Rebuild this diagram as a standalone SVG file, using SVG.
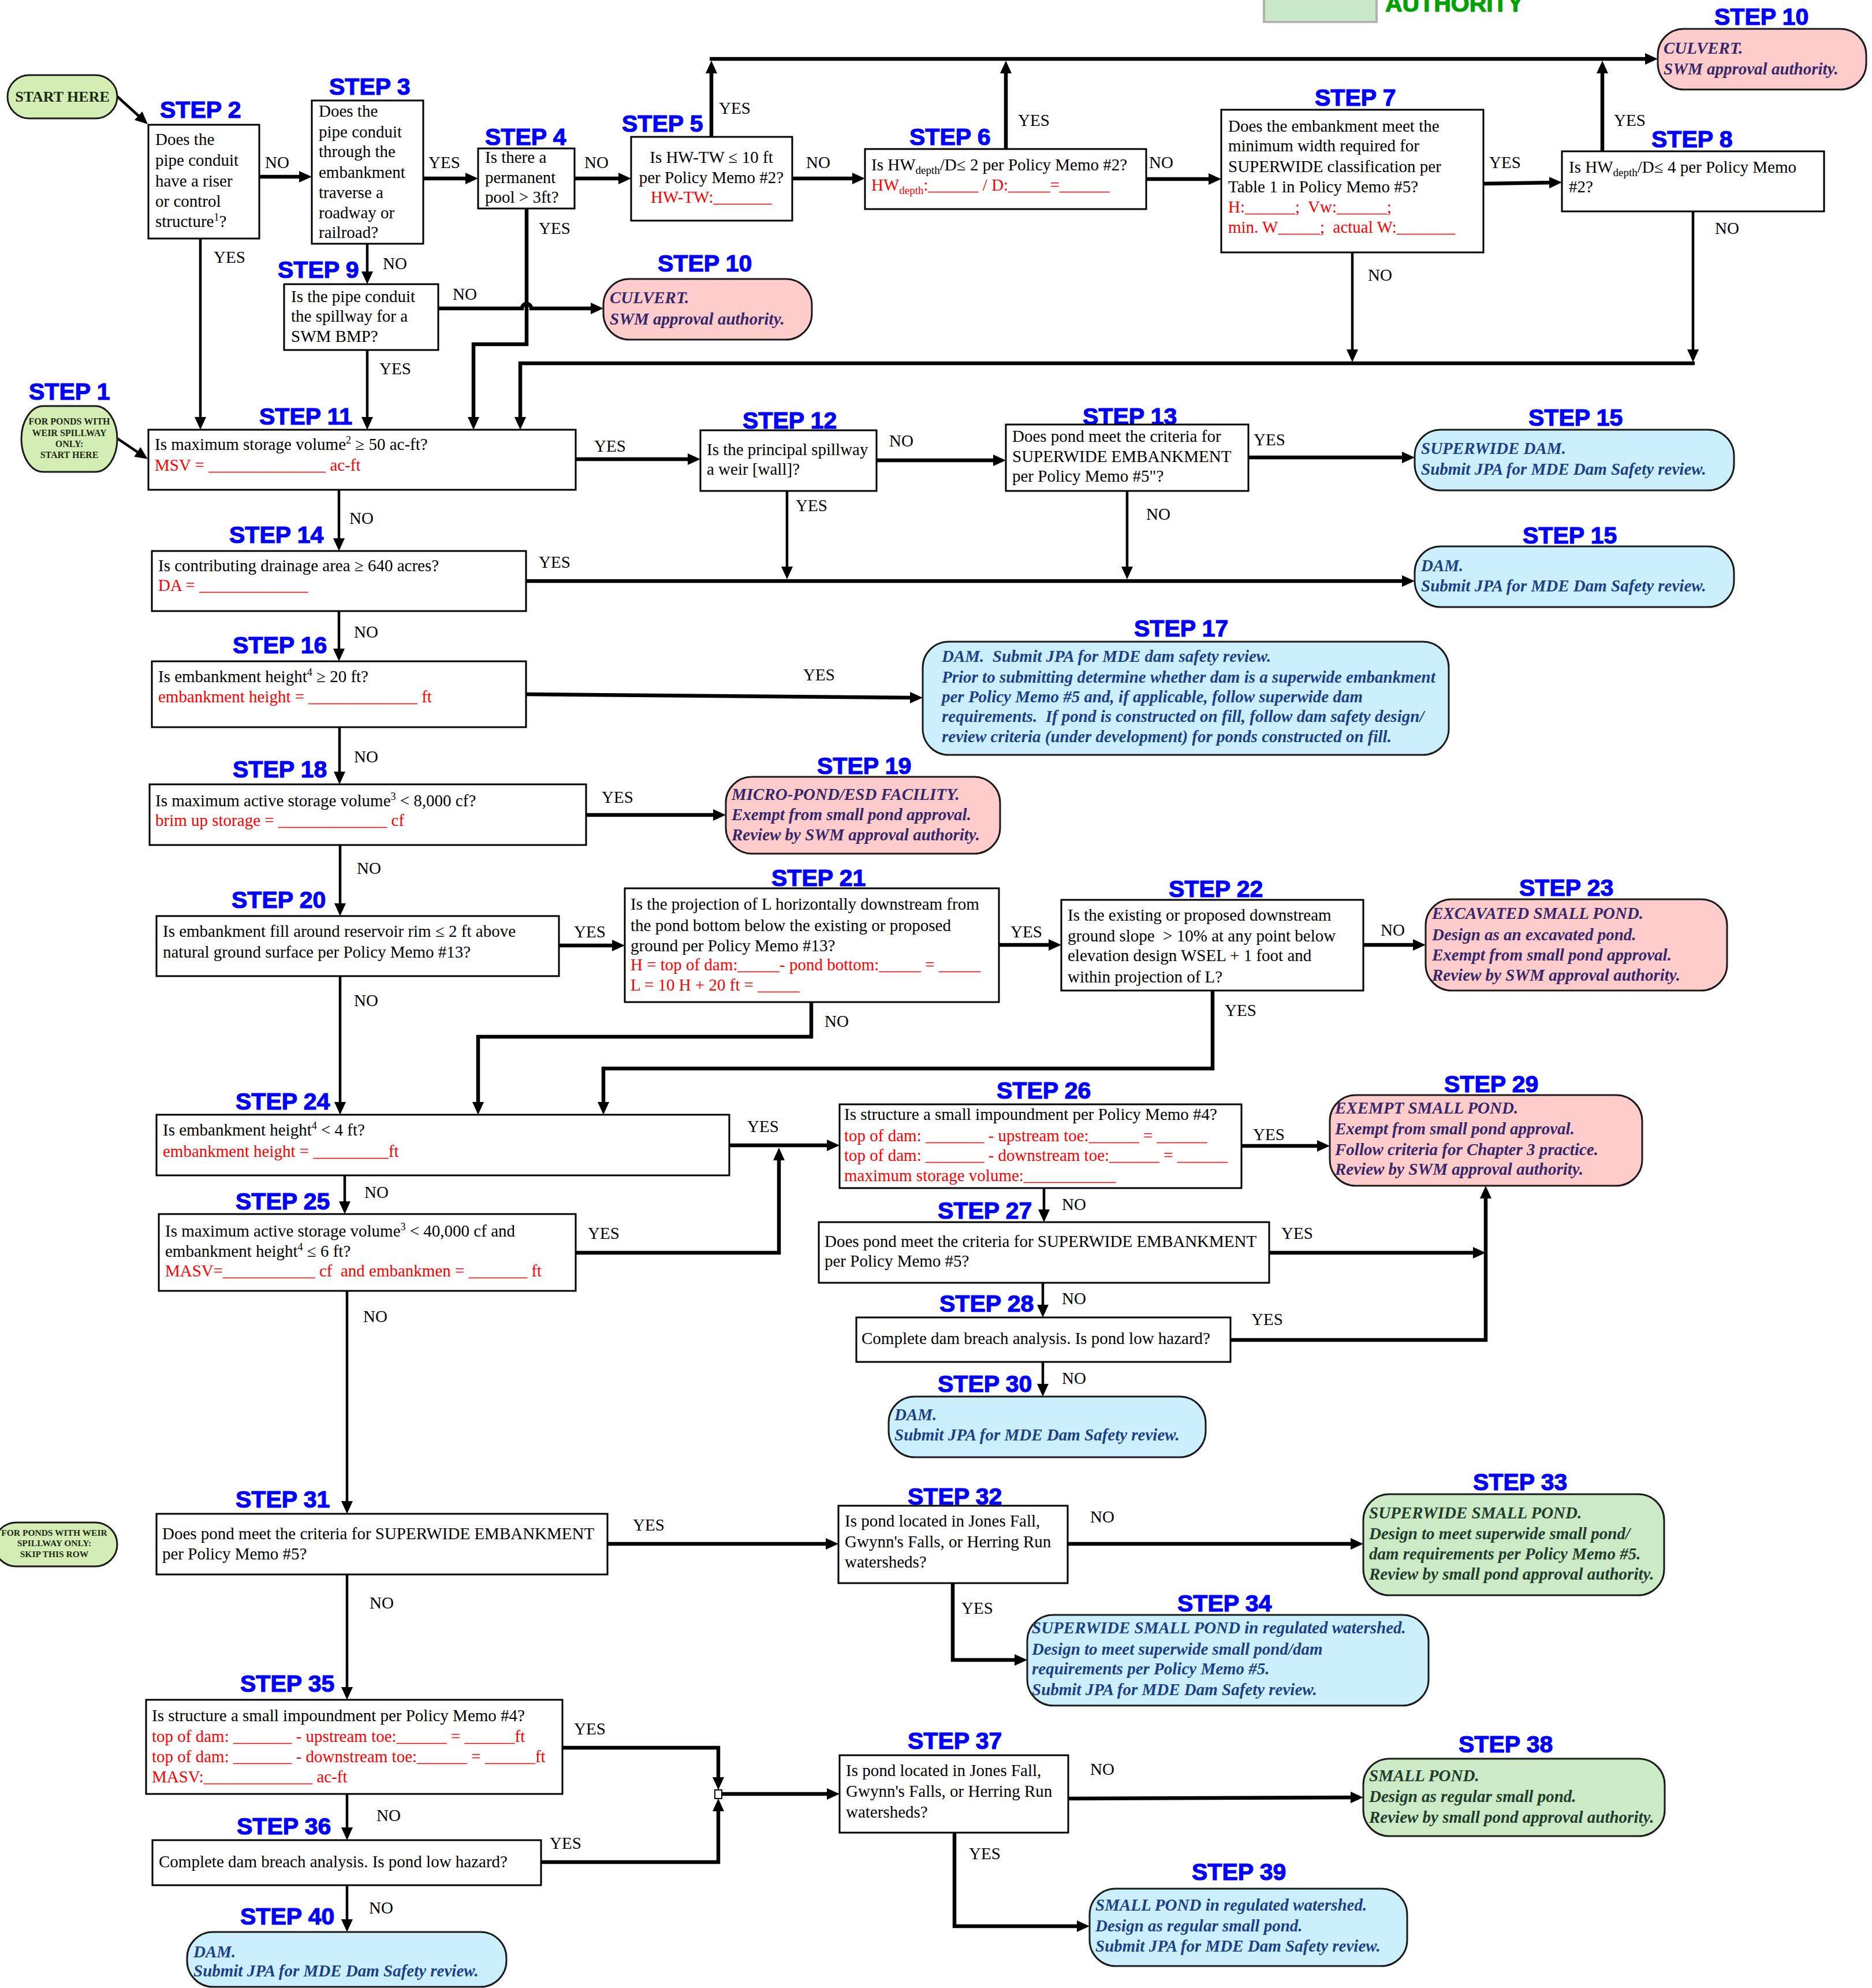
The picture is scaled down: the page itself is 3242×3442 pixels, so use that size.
<svg xmlns="http://www.w3.org/2000/svg" width="3242" height="3442" viewBox="0 0 3242 3442">
<style>
text{white-space:pre}
.q{font-family:"Liberation Serif","Times New Roman",serif;font-size:29px;fill:#000}
.r{fill:#ff0000}
.s{font-family:"Liberation Sans",Arial,sans-serif;font-weight:bold;font-size:41px;fill:#0000ff;stroke:#0000ff;stroke-width:1.2}
.bx{fill:#fff;stroke:#000;stroke-width:3}
.pk{fill:#ffcccc;stroke:#1a1a1a;stroke-width:3}
.bl{fill:#cbeffd;stroke:#1a1a1a;stroke-width:3}
.gr{fill:#cdeac6;stroke:#1a1a1a;stroke-width:3}
.st{fill:#d4edb4;stroke:#1a1a1a;stroke-width:3}
.it{font-family:"Liberation Serif","Times New Roman",serif;font-size:29px;font-style:italic;font-weight:bold}
.tp{fill:#35286a}
.tb{fill:#1c3f86}
.tg{fill:#213c2a}
.sm{font-family:"Liberation Serif","Times New Roman",serif;font-weight:bold;fill:#1b2a12;text-anchor:middle}
.c path{fill:none;stroke:#000;stroke-linejoin:miter}
.t{stroke-width:6.5}
.n{stroke-width:4.5}
.a{marker-end:url(#ah)}
</style>
<defs>
<marker id="ah" viewBox="0 0 22 20" refX="10" refY="10" markerWidth="22" markerHeight="20" markerUnits="userSpaceOnUse" orient="auto">
<path d="M0,0 L22,10 L0,20 z" fill="#000"/>
</marker>
</defs>
<rect width="3242" height="3442" fill="#fff"/>

<g id="legend">
<rect x="2189" y="-12" width="195" height="50" fill="#c9e8c9" stroke="#b3b3b3" stroke-width="4"/>
<text x="2399" y="20" font-family="Liberation Sans,Arial,sans-serif" font-weight="bold" font-size="41" fill="#00a000" stroke="#00a000" stroke-width="1.2">AUTHORITY</text>
</g>

<g class="c" id="connectors">
<path class="n a" d="M203,167 L247,207"/>
<path class="n a" d="M203,759 L246,788"/>
<path class="t a" d="M449,306 H528"/>
<path class="t a" d="M733,309 H816"/>
<path class="t a" d="M995,309 H1081"/>
<path class="t a" d="M1372,309 H1486"/>
<path class="t a" d="M1985,310 H2103"/>
<path class="t a" d="M2569,318 L2693,316"/>
<path class="t a" d="M1232,237 V117"/>
<path class="t a" d="M1229,102 H2859"/>
<path class="t a" d="M1742,258 V117"/>
<path class="t a" d="M2775,262 V117"/>
<path class="n a" d="M2342,437 V615"/>
<path class="n a" d="M2932,366 V615"/>
<path class="t a" d="M2935,629 H901 V732"/>
<path class="t a" d="M912,361 V596 H820 V732"/>
<path class="n a" d="M636,422 V480"/>
<path class="t a" d="M759,534 H904 A8,8 0 0 1 920,534 H1033"/>
<path class="n a" d="M636,606 V732"/>
<path class="n a" d="M347,413 V732"/>
<path class="t a" d="M997,795 H1201"/>
<path class="t a" d="M1518,797 H1730"/>
<path class="t a" d="M2162,792 H2438"/>
<path class="n a" d="M1363,850 V991"/>
<path class="n a" d="M1952,850 V991"/>
<path class="t a" d="M911,1006 H2438"/>
<path class="n a" d="M587,848 V942"/>
<path class="n a" d="M587,1058 V1133"/>
<path class="t a" d="M911,1202 L1586,1208"/>
<path class="n a" d="M588,1259 V1346"/>
<path class="t a" d="M1015,1411 H1245"/>
<path class="n a" d="M589,1463 V1574"/>
<path class="t a" d="M968,1637 H1070"/>
<path class="t a" d="M1729,1636 H1826"/>
<path class="t a" d="M2361,1636 H2457"/>
<path class="t a" d="M1405,1735 V1795 H828 V1918"/>
<path class="t a" d="M2100,1715 V1850 H1045 V1918"/>
<path class="n a" d="M589,1690 V1918"/>
<path class="t a" d="M1263,1983 H1442"/>
<path class="t a" d="M997,2169 H1349 V1999"/>
<path class="n a" d="M597,2035 V2090"/>
<path class="t a" d="M2150,1984 H2291"/>
<path class="n a" d="M1808,2057 V2104"/>
<path class="t a" d="M2198,2169 H2561"/>
<path class="t a" d="M2131,2320 H2573 V2065"/>
<path class="n a" d="M1806,2221 V2269"/>
<path class="n a" d="M1806,2358 V2406"/>
<path class="n a" d="M601,2235 V2609"/>
<path class="t a" d="M1052,2673 H1440"/>
<path class="n a" d="M601,2726 V2931"/>
<path class="t a" d="M1849,2673 H2349"/>
<path class="t a" d="M1650,2741 V2874 H1767"/>
<path class="t a" d="M974,3026 H1244 V3087"/>
<path class="t a" d="M937,3224 H1244 V3126"/>
<path class="t a" d="M1250,3106 H1442"/>
<path class="n a" d="M601,3106 V3174"/>
<path class="n a" d="M601,3264 V3333"/>
<path class="t a" d="M1850,3114 L2349,3112"/>
<path class="t a" d="M1653,3173 V3335 H1875"/>
<rect x="1238" y="3099" width="12" height="15" fill="#fff" stroke="#000" stroke-width="2"/>
<g class="q">
<text x="459" y="291">NO</text>
<text x="742" y="291">YES</text>
<text x="1012" y="291">NO</text>
<text x="1396" y="291">NO</text>
<text x="1990" y="291">NO</text>
<text x="2579" y="291">YES</text>
<text x="1245" y="197">YES</text>
<text x="1763" y="218">YES</text>
<text x="2795" y="218">YES</text>
<text x="2369" y="486">NO</text>
<text x="2970" y="405">NO</text>
<text x="933" y="405">YES</text>
<text x="663" y="466">NO</text>
<text x="784" y="519">NO</text>
<text x="657" y="648">YES</text>
<text x="370" y="455">YES</text>
<text x="1029" y="782">YES</text>
<text x="1540" y="773">NO</text>
<text x="2171" y="771">YES</text>
<text x="1378" y="885">YES</text>
<text x="1985" y="900">NO</text>
<text x="933" y="983">YES</text>
<text x="605" y="907">NO</text>
<text x="613" y="1104">NO</text>
<text x="1391" y="1178">YES</text>
<text x="613" y="1320">NO</text>
<text x="1042" y="1390">YES</text>
<text x="618" y="1513">NO</text>
<text x="994" y="1623">YES</text>
<text x="1750" y="1623">YES</text>
<text x="2391" y="1620">NO</text>
<text x="1428" y="1778">NO</text>
<text x="2121" y="1759">YES</text>
<text x="613" y="1742">NO</text>
<text x="1294" y="1960">YES</text>
<text x="1018" y="2145">YES</text>
<text x="631" y="2074">NO</text>
<text x="2170" y="1974">YES</text>
<text x="1839" y="2095">NO</text>
<text x="2219" y="2145">YES</text>
<text x="2167" y="2294">YES</text>
<text x="1839" y="2258">NO</text>
<text x="1839" y="2396">NO</text>
<text x="629" y="2289">NO</text>
<text x="1096" y="2650">YES</text>
<text x="640" y="2785">NO</text>
<text x="1888" y="2636">NO</text>
<text x="1665" y="2794">YES</text>
<text x="994" y="3003">YES</text>
<text x="952" y="3201">YES</text>
<text x="652" y="3153">NO</text>
<text x="639" y="3313">NO</text>
<text x="1888" y="3073">NO</text>
<text x="1678" y="3219">YES</text>
</g>
</g>

<g id="start">
<rect class="st" x="13" y="130" width="190" height="75" rx="37.5"/>
<text class="sm" x="108" y="176" font-size="26">START HERE</text>
</g>

<g id="step1">
<text class="s" x="50" y="692">STEP 1</text>
<rect class="st" x="37" y="703" width="166" height="114" rx="38" ry="57"/>
<text class="sm" x="120" y="735" font-size="16">FOR PONDS WITH</text>
<text class="sm" x="120" y="755" font-size="16">WEIR SPILLWAY</text>
<text class="sm" x="120" y="774" font-size="16">ONLY:</text>
<text class="sm" x="120" y="793" font-size="16">START HERE</text>
</g>

<g id="step2">
<text class="s" x="277" y="204">STEP 2</text>
<rect class="bx" x="257" y="216" width="192" height="197"/>
<text class="q" x="269" y="251">Does the</text>
<text class="q" x="269" y="287">pipe conduit</text>
<text class="q" x="269" y="323">have a riser</text>
<text class="q" x="269" y="358">or control</text>
<text class="q" x="269" y="393">structure<tspan font-size="18" dy="-11">1</tspan><tspan dy="11">?</tspan></text>
</g>

<g id="step3">
<text class="s" x="570" y="164">STEP 3</text>
<rect class="bx" x="540" y="174" width="193" height="248"/>
<text class="q" x="552" y="202">Does the</text>
<text class="q" x="552" y="238">pipe conduit</text>
<text class="q" x="552" y="272">through the</text>
<text class="q" x="552" y="308">embankment</text>
<text class="q" x="552" y="343">traverse a</text>
<text class="q" x="552" y="378">roadway or</text>
<text class="q" x="552" y="412">railroad?</text>
</g>

<g id="step4">
<text class="s" x="840" y="251">STEP 4</text>
<rect class="bx" x="828" y="257" width="167" height="104"/>
<text class="q" x="840" y="282">Is there a</text>
<text class="q" x="840" y="317">permanent</text>
<text class="q" x="840" y="351">pool &gt; 3ft?</text>
</g>

<g id="step5">
<text class="s" x="1077" y="228">STEP 5</text>
<rect class="bx" x="1093" y="237" width="279" height="145"/>
<text class="q" x="1232" y="282" text-anchor="middle">Is HW-TW ≤ 10 ft</text>
<text class="q" x="1232" y="317" text-anchor="middle">per Policy Memo #2?</text>
<text class="q r" x="1232" y="351" text-anchor="middle">HW-TW:_______</text>
</g>

<g id="step6">
<text class="s" x="1575" y="251">STEP 6</text>
<rect class="bx" x="1498" y="258" width="487" height="104"/>
<text class="q" x="1509" y="295">Is HW<tspan font-size="19" dy="6">depth</tspan><tspan dy="-6">/D≤ 2 per Policy Memo #2?</tspan></text>
<text class="q r" x="1509" y="330">HW<tspan font-size="19" dy="6">depth</tspan><tspan dy="-6">:______ / D:_____=______</tspan></text>
</g>

<g id="step7">
<text class="s" x="2277" y="183">STEP 7</text>
<rect class="bx" x="2115" y="190" width="454" height="247"/>
<text class="q" x="2127" y="228">Does the embankment meet the</text>
<text class="q" x="2127" y="262">minimum width required for</text>
<text class="q" x="2127" y="298">SUPERWIDE classification per</text>
<text class="q" x="2127" y="333">Table 1 in Policy Memo #5?</text>
<text class="q r" x="2127" y="368">H:______;  Vw:______;</text>
<text class="q r" x="2127" y="403">min. W_____;  actual W:_______</text>
</g>

<g id="step8">
<text class="s" x="2860" y="255">STEP 8</text>
<rect class="bx" x="2705" y="262" width="454" height="104"/>
<text class="q" x="2717" y="299">Is HW<tspan font-size="19" dy="6">depth</tspan><tspan dy="-6">/D≤ 4 per Policy Memo</tspan></text>
<text class="q" x="2717" y="333">#2?</text>
</g>

<g id="step10a">
<text class="s" x="2969" y="43">STEP 10</text>
<rect class="pk" x="2871" y="50" width="361" height="105" rx="45"/>
<text class="it tp" x="2881" y="93">CULVERT.</text>
<text class="it tp" x="2881" y="129">SWM approval authority.</text>
</g>

<g id="step9">
<text class="s" x="481" y="481">STEP 9</text>
<rect class="bx" x="492" y="492" width="267" height="114"/>
<text class="q" x="504" y="523">Is the pipe conduit</text>
<text class="q" x="504" y="557">the spillway for a</text>
<text class="q" x="504" y="592">SWM BMP?</text>
</g>

<g id="step10b">
<text class="s" x="1139" y="470">STEP 10</text>
<rect class="pk" x="1045" y="483" width="361" height="105" rx="45"/>
<text class="it tp" x="1056" y="525">CULVERT.</text>
<text class="it tp" x="1056" y="562">SWM approval authority.</text>
</g>

<g id="step11">
<text class="s" x="449" y="735">STEP 11</text>
<rect class="bx" x="257" y="744" width="740" height="104"/>
<text class="q" x="268" y="779">Is maximum storage volume<tspan font-size="18" dy="-11">2</tspan><tspan dy="11"> ≥ 50 ac-ft?</tspan></text>
<text class="q r" x="268" y="815">MSV = ______________ ac-ft</text>
</g>

<g id="step12">
<text class="s" x="1286" y="742">STEP 12</text>
<rect class="bx" x="1213" y="745" width="305" height="105"/>
<text class="q" x="1224" y="788">Is the principal spillway</text>
<text class="q" x="1224" y="822">a weir [wall]?</text>
</g>

<g id="step13">
<text class="s" x="1875" y="735">STEP 13</text>
<rect class="bx" x="1742" y="735" width="420" height="115"/>
<text class="q" x="1753" y="765">Does pond meet the criteria for</text>
<text class="q" x="1753" y="800">SUPERWIDE EMBANKMENT</text>
<text class="q" x="1753" y="834">per Policy Memo #5"?</text>
</g>

<g id="step15a">
<text class="s" x="2647" y="737">STEP 15</text>
<rect class="bl" x="2450" y="744" width="553" height="105" rx="45"/>
<text class="it tb" x="2461" y="786">SUPERWIDE DAM.</text>
<text class="it tb" x="2461" y="822">Submit JPA for MDE Dam Safety review.</text>
</g>

<g id="step14">
<text class="s" x="397" y="940">STEP 14</text>
<rect class="bx" x="263" y="954" width="648" height="104"/>
<text class="q" x="274" y="989">Is contributing drainage area ≥ 640 acres?</text>
<text class="q r" x="274" y="1023">DA = _____________</text>
</g>

<g id="step15b">
<text class="s" x="2637" y="941">STEP 15</text>
<rect class="bl" x="2450" y="946" width="553" height="105" rx="45"/>
<text class="it tb" x="2461" y="989">DAM.</text>
<text class="it tb" x="2461" y="1024">Submit JPA for MDE Dam Safety review.</text>
</g>

<g id="step16">
<text class="s" x="403" y="1131">STEP 16</text>
<rect class="bx" x="263" y="1145" width="648" height="114"/>
<text class="q" x="274" y="1181">Is embankment height<tspan font-size="18" dy="-11">4</tspan><tspan dy="11"> ≥ 20 ft?</tspan></text>
<text class="q r" x="274" y="1216">embankment height = _____________ ft</text>
</g>

<g id="step17">
<text class="s" x="1964" y="1102">STEP 17</text>
<rect class="bl" x="1598" y="1111" width="911" height="196" rx="45"/>
<text class="it tb" x="1631" y="1146">DAM.  Submit JPA for MDE dam safety review.</text>
<text class="it tb" x="1631" y="1182">Prior to submitting determine whether dam is a superwide embankment</text>
<text class="it tb" x="1631" y="1216">per Policy Memo #5 and, if applicable, follow superwide dam</text>
<text class="it tb" x="1631" y="1250">requirements.  If pond is constructed on fill, follow dam safety design/</text>
<text class="it tb" x="1631" y="1285">review criteria (under development) for ponds constructed on fill.</text>
</g>

<g id="step18">
<text class="s" x="403" y="1346">STEP 18</text>
<rect class="bx" x="259" y="1358" width="756" height="105"/>
<text class="q" x="269" y="1396">Is maximum active storage volume<tspan font-size="18" dy="-11">3</tspan><tspan dy="11"> &lt; 8,000 cf?</tspan></text>
<text class="q r" x="269" y="1430">brim up storage = _____________ cf</text>
</g>

<g id="step19">
<text class="s" x="1415" y="1340">STEP 19</text>
<rect class="pk" x="1257" y="1345" width="475" height="133" rx="45"/>
<text class="it tp" x="1267" y="1385">MICRO-POND/ESD FACILITY.</text>
<text class="it tp" x="1267" y="1420">Exempt from small pond approval.</text>
<text class="it tp" x="1267" y="1455">Review by SWM approval authority.</text>
</g>

<g id="step20">
<text class="s" x="401" y="1572">STEP 20</text>
<rect class="bx" x="271" y="1586" width="697" height="104"/>
<text class="q" x="282" y="1622">Is embankment fill around reservoir rim ≤ 2 ft above</text>
<text class="q" x="282" y="1658">natural ground surface per Policy Memo #13?</text>
</g>

<g id="step21">
<text class="s" x="1336" y="1534">STEP 21</text>
<rect class="bx" x="1082" y="1538" width="648" height="197"/>
<text class="q" x="1092" y="1575">Is the projection of L horizontally downstream from</text>
<text class="q" x="1092" y="1612">the pond bottom below the existing or proposed</text>
<text class="q" x="1092" y="1647">ground per Policy Memo #13?</text>
<text class="q r" x="1092" y="1680">H = top of dam:_____- pond bottom:_____ = _____</text>
<text class="q r" x="1092" y="1715">L = 10 H + 20 ft = _____</text>
</g>

<g id="step22">
<text class="s" x="2024" y="1553">STEP 22</text>
<rect class="bx" x="1838" y="1558" width="523" height="157"/>
<text class="q" x="1849" y="1594">Is the existing or proposed downstream</text>
<text class="q" x="1849" y="1630">ground slope  &gt; 10% at any point below</text>
<text class="q" x="1849" y="1664">elevation design WSEL + 1 foot and</text>
<text class="q" x="1849" y="1701">within projection of L?</text>
</g>

<g id="step23">
<text class="s" x="2631" y="1551">STEP 23</text>
<rect class="pk" x="2469" y="1557" width="522" height="158" rx="45"/>
<text class="it tp" x="2480" y="1591">EXCAVATED SMALL POND.</text>
<text class="it tp" x="2480" y="1628">Design as an excavated pond.</text>
<text class="it tp" x="2480" y="1663">Exempt from small pond approval.</text>
<text class="it tp" x="2480" y="1698">Review by SWM approval authority.</text>
</g>

<g id="step24">
<text class="s" x="408" y="1921">STEP 24</text>
<rect class="bx" x="271" y="1930" width="992" height="105"/>
<text class="q" x="282" y="1966">Is embankment height<tspan font-size="18" dy="-11">4</tspan><tspan dy="11"> &lt; 4 ft?</tspan></text>
<text class="q r" x="282" y="2003">embankment height = _________ft</text>
</g>

<g id="step26">
<text class="s" x="1726" y="1902">STEP 26</text>
<rect class="bx" x="1454" y="1912" width="696" height="145"/>
<text class="q" x="1462" y="1939">Is structure a small impoundment per Policy Memo #4?</text>
<text class="q r" x="1462" y="1976">top of dam: _______ - upstream toe:______ = ______</text>
<text class="q r" x="1462" y="2010">top of dam: _______ - downstream toe:______ = ______</text>
<text class="q r" x="1462" y="2045">maximum storage volume:___________</text>
</g>

<g id="step29">
<text class="s" x="2501" y="1891">STEP 29</text>
<rect class="pk" x="2303" y="1896" width="541" height="157" rx="45"/>
<text class="it tp" x="2312" y="1928">EXEMPT SMALL POND.</text>
<text class="it tp" x="2312" y="1964">Exempt from small pond approval.</text>
<text class="it tp" x="2312" y="2000">Follow criteria for Chapter 3 practice.</text>
<text class="it tp" x="2312" y="2034">Review by SWM approval authority.</text>
</g>

<g id="step25">
<text class="s" x="408" y="2094">STEP 25</text>
<rect class="bx" x="275" y="2102" width="722" height="133"/>
<text class="q" x="286" y="2141">Is maximum active storage volume<tspan font-size="18" dy="-11">3</tspan><tspan dy="11"> &lt; 40,000 cf and</tspan></text>
<text class="q" x="286" y="2176">embankment height<tspan font-size="18" dy="-11">4</tspan><tspan dy="11"> ≤ 6 ft?</tspan></text>
<text class="q r" x="286" y="2210">MASV=___________ cf  and embankmen = _______ ft</text>
</g>

<g id="step27">
<text class="s" x="1624" y="2110">STEP 27</text>
<rect class="bx" x="1418" y="2116" width="780" height="105"/>
<text class="q" x="1428" y="2159">Does pond meet the criteria for SUPERWIDE EMBANKMENT</text>
<text class="q" x="1428" y="2193">per Policy Memo #5?</text>
</g>

<g id="step28">
<text class="s" x="1627" y="2271">STEP 28</text>
<rect class="bx" x="1483" y="2281" width="648" height="77"/>
<text class="q" x="1492" y="2327">Complete dam breach analysis. Is pond low hazard?</text>
</g>

<g id="step30">
<text class="s" x="1624" y="2410">STEP 30</text>
<rect class="bl" x="1539" y="2418" width="549" height="105" rx="45"/>
<text class="it tb" x="1549" y="2459">DAM.</text>
<text class="it tb" x="1549" y="2494">Submit JPA for MDE Dam Safety review.</text>
</g>

<g id="skip">
<rect class="st" x="-10" y="2636" width="213" height="76" rx="38"/>
<text class="sm" x="94" y="2659" font-size="15.5">FOR PONDS WITH WEIR</text>
<text class="sm" x="94" y="2677" font-size="15.5">SPILLWAY ONLY:</text>
<text class="sm" x="94" y="2696" font-size="15.5">SKIP THIS ROW</text>
</g>

<g id="step31">
<text class="s" x="408" y="2610">STEP 31</text>
<rect class="bx" x="271" y="2621" width="781" height="105"/>
<text class="q" x="281" y="2665">Does pond meet the criteria for SUPERWIDE EMBANKMENT</text>
<text class="q" x="281" y="2700">per Policy Memo #5?</text>
</g>

<g id="step32">
<text class="s" x="1572" y="2605">STEP 32</text>
<rect class="bx" x="1452" y="2607" width="397" height="134"/>
<text class="q" x="1463" y="2643">Is pond located in Jones Fall,</text>
<text class="q" x="1463" y="2679">Gwynn's Falls, or Herring Run</text>
<text class="q" x="1463" y="2714">watersheds?</text>
</g>

<g id="step33">
<text class="s" x="2551" y="2580">STEP 33</text>
<rect class="gr" x="2361" y="2587" width="521" height="175" rx="45"/>
<text class="it tg" x="2371" y="2629">SUPERWIDE SMALL POND.</text>
<text class="it tg" x="2371" y="2665">Design to meet superwide small pond/</text>
<text class="it tg" x="2371" y="2700">dam requirements per Policy Memo #5.</text>
<text class="it tg" x="2371" y="2735">Review by small pond approval authority.</text>
</g>

<g id="step34">
<text class="s" x="2039" y="2790">STEP 34</text>
<rect class="bl" x="1779" y="2796" width="695" height="157" rx="45"/>
<text class="it tb" x="1787" y="2828">SUPERWIDE SMALL POND in regulated watershed.</text>
<text class="it tb" x="1787" y="2865">Design to meet superwide small pond/dam</text>
<text class="it tb" x="1787" y="2899">requirements per Policy Memo #5.</text>
<text class="it tb" x="1787" y="2935">Submit JPA for MDE Dam Safety review.</text>
</g>

<g id="step35">
<text class="s" x="416" y="2929">STEP 35</text>
<rect class="bx" x="253" y="2943" width="721" height="163"/>
<text class="q" x="263" y="2980">Is structure a small impoundment per Policy Memo #4?</text>
<text class="q r" x="263" y="3016">top of dam: _______ - upstream toe:______ = ______ft</text>
<text class="q r" x="263" y="3051">top of dam: _______ - downstream toe:______ = ______ft</text>
<text class="q r" x="263" y="3086">MASV:_____________ ac-ft</text>
</g>

<g id="step36">
<text class="s" x="410" y="3176">STEP 36</text>
<rect class="bx" x="264" y="3186" width="673" height="78"/>
<text class="q" x="275" y="3233">Complete dam breach analysis. Is pond low hazard?</text>
</g>

<g id="step37">
<text class="s" x="1572" y="3028">STEP 37</text>
<rect class="bx" x="1454" y="3039" width="396" height="134"/>
<text class="q" x="1465" y="3075">Is pond located in Jones Fall,</text>
<text class="q" x="1465" y="3111">Gwynn's Falls, or Herring Run</text>
<text class="q" x="1465" y="3147">watersheds?</text>
</g>

<g id="step38">
<text class="s" x="2526" y="3034">STEP 38</text>
<rect class="gr" x="2361" y="3045" width="522" height="134" rx="45"/>
<text class="it tg" x="2371" y="3084">SMALL POND.</text>
<text class="it tg" x="2371" y="3120">Design as regular small pond.</text>
<text class="it tg" x="2371" y="3156">Review by small pond approval authority.</text>
</g>

<g id="step39">
<text class="s" x="2064" y="3255">STEP 39</text>
<rect class="bl" x="1887" y="3270" width="550" height="134" rx="45"/>
<text class="it tb" x="1897" y="3308">SMALL POND in regulated watershed.</text>
<text class="it tb" x="1897" y="3344">Design as regular small pond.</text>
<text class="it tb" x="1897" y="3379">Submit JPA for MDE Dam Safety review.</text>
</g>

<g id="step40">
<text class="s" x="416" y="3332">STEP 40</text>
<rect class="bl" x="324" y="3345" width="553" height="95" rx="45"/>
<text class="it tb" x="335" y="3389">DAM.</text>
<text class="it tb" x="335" y="3422">Submit JPA for MDE Dam Safety review.</text>
</g>
</svg>
